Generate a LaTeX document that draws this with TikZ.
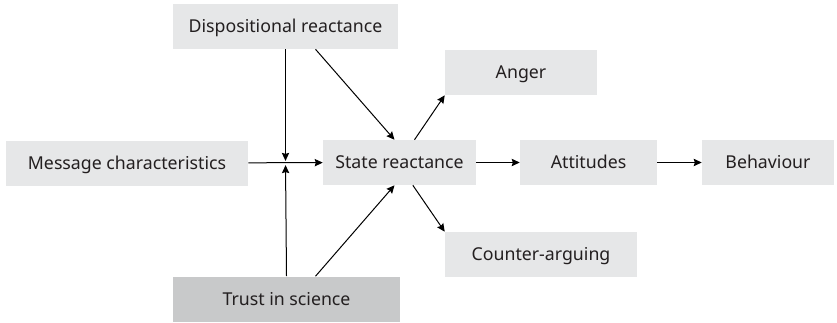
\documentclass[tikz,border=0pt]{standalone}
\usepackage{fontspec}
\setmainfont{Noto Sans}
\usepackage{tikz}
\usetikzlibrary{
  arrows.meta,
  positioning
}
\usepackage{xcolor}
\definecolor{boxgrey}{RGB}{230,231,232}
\definecolor{trustgrey}{RGB}{200,201,202}
\definecolor{inkdark}{RGB}{35,31,32}

\begin{document}
\begin{tikzpicture}[
  x=0.75pt, y=-0.75pt,
  every node/.style={font=\fontsize{13.3}{15}\selectfont, text=inkdark},
  factor/.style={fill=boxgrey, minimum height=33.75pt, inner sep=0pt,
                 text height=9.5pt, text depth=0pt},
  link/.style={->, line width=0.75pt, draw=black},
  >={Stealth[length=6pt, width=5.5pt, inset=0.8pt]}
]
\useasboundingbox (0,0) rectangle (837,322);

% Moderators
\node[factor, minimum width=168.75pt] (disp) at (285.5, 26.5)
  {Dispositional reactance};
\node[factor, fill=trustgrey, minimum width=170.25pt] (trust) at (286.5, 299)
  {Trust in science};

% Main chain
\node[factor, minimum width=181.5pt] (msg) at (127, 163)
  {Message characteristics};
\node[factor, minimum width=114.75pt] (state) at (399.5, 162.5)
  {State reactance};
\node[factor, minimum width=102.75pt] (att) at (588.5, 162.5)
  {Attitudes};
\node[factor, minimum width=99pt] (beh) at (768, 162.5)
  {Behaviour};

% Side outcomes
\node[factor, minimum width=114pt] (anger) at (521, 72.5)
  {Anger};
\node[factor, minimum width=144pt] (counter) at (541, 254.5)
  {Counter-arguing};

% Arrows
\coordinate (mod) at (disp.south |- msg.east);
\draw[link] (msg) -- (state);
\draw[link, shorten >=1.6pt] (disp.south) -- (mod);
\draw[link, shorten >=1.6pt] (trust.north) -- (mod);
\draw[link] ([xshift=22.5pt]disp.south) -- ([xshift=-3.75pt]state.north);
\draw[link] ([xshift=21.75pt]trust.north) -- ([xshift=-3.75pt]state.north |- state.south);
\draw[link] ([xshift=11.25pt]state.north) -- (anger.south west);
\draw[link] ([xshift=10pt]state.south) -- (counter.north west);
\draw[link] (state) -- (att);
\draw[link] (att) -- (beh);

\end{tikzpicture}
\end{document}
